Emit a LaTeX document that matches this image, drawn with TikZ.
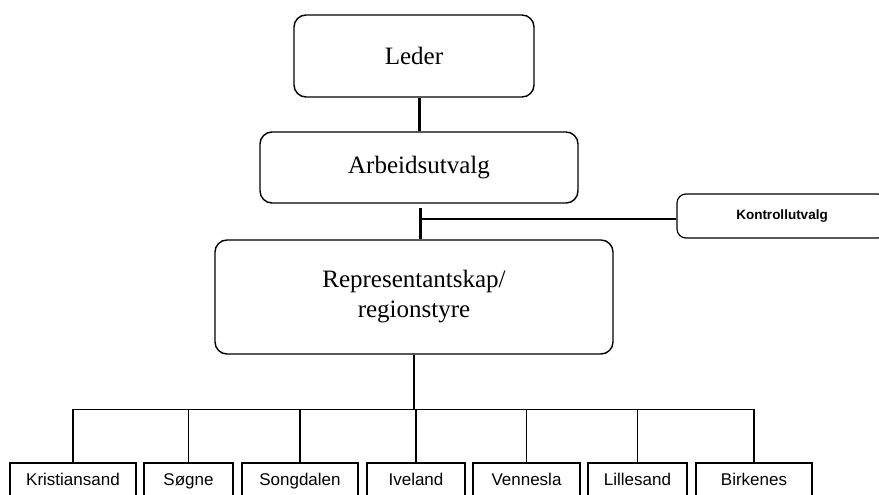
\documentclass[tikz,border=0pt]{standalone}
\usepackage{fontspec}
\setmainfont{Liberation Serif}
\setsansfont{Liberation Sans}
\usetikzlibrary{positioning}
\tikzset{
	organ/.style={draw, rounded corners=12pt, line width=1.4pt, align=center, font=\fontsize{25}{30}\selectfont}, % the big boxes
	utvalg/.style={draw, rounded corners=9pt, line width=1.2pt, font=\sffamily\bfseries\fontsize{13.5}{16}\selectfont},
	lokallag/.style={draw, line width=1.3pt, minimum height=36pt, text height=12pt, text depth=3.5pt, font=\sffamily\fontsize{17}{20}\selectfont},
	tynn/.style={line width=1.2pt},
	tykk/.style={line width=3pt},
}

\begin{document}
\begin{tikzpicture}[x=1pt, y=-1pt]
	\clip (0,0) rectangle (879,495);
	\useasboundingbox (0,0) rectangle (879,495);
	% top of the organisation
	\node[organ, minimum width=240pt, minimum height=82pt] (leder) at (414,56) {Leder};
	\node[organ, minimum width=318pt, minimum height=71pt] (arb) at (419,167.5) {Arbeidsutvalg};
	\node[organ, minimum width=398pt, minimum height=114pt] (rep) at (414,297) {Representantskap/\\regionstyre};
	\node[utvalg, minimum width=210pt, minimum height=44pt] (kontroll) at (782,216) {Kontrollutvalg};
	% local branches
	\node[lokallag, minimum width=126pt] (kristiansand) at (73,481) {Kristiansand};
	\node[lokallag, minimum width=89pt] (sogne) at (188.5,481) {Søgne};
	\node[lokallag, minimum width=116pt] (songdalen) at (300,481) {Songdalen};
	\node[lokallag, minimum width=98pt] (iveland) at (416,481) {Iveland};
	\node[lokallag, minimum width=107pt] (vennesla) at (526.5,481) {Vennesla};
	\node[lokallag, minimum width=99pt] (lillesand) at (637.5,481) {Lillesand};
	\node[lokallag, minimum width=116pt] (birkenes) at (754,481) {Birkenes};

	\draw[tykk] (arb.north) -- (arb.north |- leder.south);
	\coordinate (tee) at (420,219);
	\draw[tykk] (tee |- rep.north) -- ++(0,-31);
	\draw[tynn] (tee) -- (tee -| kontroll.west);
	\draw[tynn] (rep.south) -- ++(0,55) coordinate (bus);
	\foreach \lag in {kristiansand, sogne, songdalen, iveland, vennesla, lillesand, birkenes}
		\draw[tynn] (\lag.north) |- (bus);
\end{tikzpicture}
\end{document}
